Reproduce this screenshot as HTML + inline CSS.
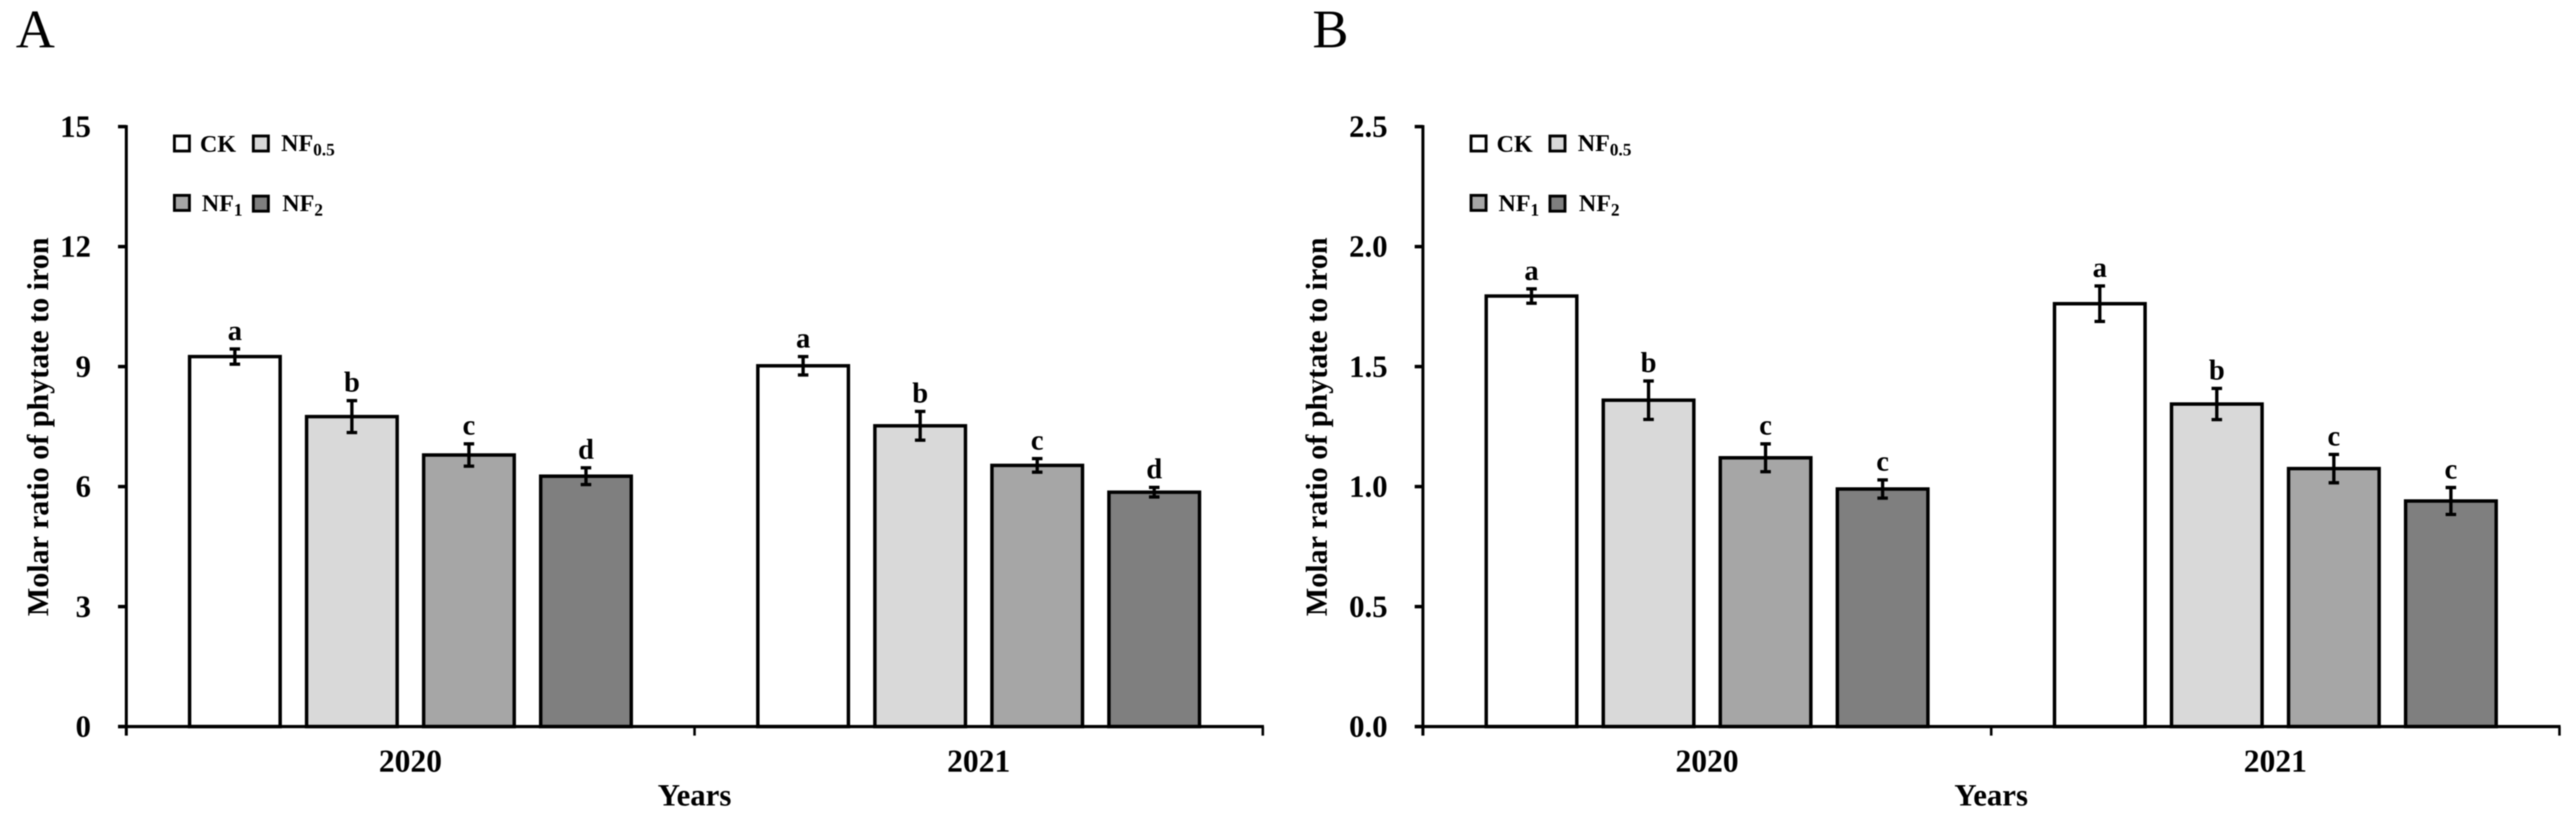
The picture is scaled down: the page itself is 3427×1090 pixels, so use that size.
<!DOCTYPE html>
<html lang="en">
<head>
<meta charset="utf-8">
<title>Molar ratio of phytate to iron</title>
<style>
html,body{margin:0;padding:0;background:#fff;}
body{width:3427px;height:1090px;overflow:hidden;}
svg{display:block;filter:blur(0.9px);}
text{font-family:"Liberation Serif","Times New Roman",serif;fill:#000;}
.bold{font-weight:bold;}
</style>
</head>
<body>
<svg id="fig" xmlns="http://www.w3.org/2000/svg" width="3427" height="1090" viewBox="0 0 3427 1090"></svg>
<script>
// ---- chart data ----
const years = ["2020", "2021"];
const treatments = ["CK", "NF0.5", "NF1", "NF2"];
const treatmentFills = ["#ffffff", "#d9d9d9", "#a6a6a6", "#7f7f7f"];

const ticksA = ["0", "3", "6", "9", "12", "15"];
const meansA2020 = [9.25, 7.75, 6.79, 6.26];
const meansA2021 = [9.02, 7.52, 6.53, 5.86];
const errorsA2020 = [0.19, 0.40, 0.28, 0.21];
const errorsA2021 = [0.23, 0.36, 0.17, 0.12];
const lettersA2020 = ["a", "b", "c", "d"];
const lettersA2021 = ["a", "b", "c", "d"];

const ticksB = ["0.0", "0.5", "1.0", "1.5", "2.0", "2.5"];
const meansB2020 = [1.794, 1.36, 1.12, 0.99];
const meansB2021 = [1.762, 1.344, 1.075, 0.94];
const errorsB2020 = [0.03, 0.08, 0.058, 0.038];
const errorsB2021 = [0.074, 0.065, 0.059, 0.056];
const lettersB2020 = ["a", "b", "c", "c"];
const lettersB2021 = ["a", "b", "c", "c"];

const yAxisTitle = "Molar ratio of phytate to iron";
const xAxisTitle = "Years";

// ---- layout ----
const SVG_NS = "http://www.w3.org/2000/svg";
const svg = document.getElementById("fig");
const Y_BOTTOM = 967;
const Y_TOP = 168.5;
const PLOT_W = 1512;
const BAR_W = 120.5;
const BAR_PITCH = 155.7;

function node(tag, parent, attrs, txt) {
  const el = document.createElementNS(SVG_NS, tag);
  for (const k in attrs) el.setAttribute(k, attrs[k]);
  if (txt !== undefined) el.textContent = txt;
  parent.appendChild(el);
  return el;
}

function drawLegendEntry(parent, panelKey, index, boxX, boxY, textX, textY) {
  const group = node("g", parent, {});
  
  
  const box = node("rect", group, {x: boxX, y: boxY, width: 20, height: 20, fill: treatmentFills[index], stroke: "#000", "stroke-width": 3.8});
  
  
  const label = treatments[index];
  const t = node("text", group, {x: textX, y: textY, "font-size": 32, "class": "bold"});
  
  
  if (label === "CK") {
    t.textContent = label;
  } else {
    const main = node("tspan", t, {}, "NF");
    
    
    const sub = node("tspan", t, {"font-size": 23, dy: 6}, label.slice(2));
    
    
  }
}

function drawPanel(cfg) {
  const x0 = cfg.axisX;
  const xEnd = x0 + PLOT_W;
  const bandW = PLOT_W / years.length;
  const maxTick = parseFloat(cfg.ticks[cfg.ticks.length - 1]);
  const yScale = v => Y_BOTTOM - (v / maxTick) * (Y_BOTTOM - Y_TOP);
  const bandCenter = i => x0 + bandW * (i + 0.5);
  const barCenter = (i, j) => bandCenter(i) + (j - (treatments.length - 1) / 2) * BAR_PITCH;

  const panel = node("g", svg, {});
  
  

  const panelLabel = node("text", panel, {x: cfg.labelX, y: 63, "font-size": 72}, cfg.key.toUpperCase());
  
  

  // bars
  years.forEach((yr, i) => {
    const group = node("g", panel, {});
    
    
    cfg.means[i].forEach((m, j) => {
      const cx = barCenter(i, j);
      const top = yScale(m);
      const bar = node("rect", group, {
        x: cx - BAR_W / 2, y: top, width: BAR_W, height: Y_BOTTOM - top,
        fill: treatmentFills[j], stroke: "#000", "stroke-width": 4.6
      });
      
      

      const hi = yScale(m + cfg.errors[i][j]);
      const lo = yScale(m - cfg.errors[i][j]);
      const errorBar = node("path", group, {
        d: "M" + (cx - 7) + " " + hi + "H" + (cx + 7) + "M" + cx + " " + hi + "V" + lo + "M" + (cx - 7) + " " + lo + "H" + (cx + 7),
        fill: "none", stroke: "#000", "stroke-width": 4.4
      });
      
      

      const letter = node("text", group, {
        x: cx, y: hi - 12, "font-size": 38, "class": "bold", "text-anchor": "middle"
      }, cfg.letters[i][j]);
      
      
    });
  });

  // y axis
  const yAxis = node("g", panel, {});
  
  
  const yLine = node("line", yAxis, {x1: x0, x2: x0, y1: Y_TOP - 2, y2: Y_BOTTOM + 12, stroke: "#000", "stroke-width": 4});
  
  
  cfg.ticks.forEach(label => {
    const y = yScale(parseFloat(label));
    const tick = node("line", yAxis, {x1: x0 - 11, x2: x0, y1: y, y2: y, stroke: "#000", "stroke-width": 4.6});
    
    
    const tickLabel = node("text", yAxis, {x: x0 - 47, y: y + 13.5, "font-size": 41, "class": "bold", "text-anchor": "end"}, label);
    
    
  });
  const yTitle = node("text", yAxis, {
    x: 0, y: 0, "font-size": 40, "class": "bold", "text-anchor": "middle",
    transform: "translate(" + cfg.titleX + " 568) rotate(-90)"
  }, yAxisTitle);
  
  

  // x axis
  const xAxis = node("g", panel, {});
  
  
  const xLine = node("line", xAxis, {x1: x0 - 11, x2: xEnd + 1.5, y1: Y_BOTTOM, y2: Y_BOTTOM, stroke: "#000", "stroke-width": 4.2});
  
  
  for (let i = 1; i <= years.length; i++) {
    const tx = x0 + bandW * i;
    const tick = node("line", xAxis, {x1: tx, x2: tx, y1: Y_BOTTOM, y2: Y_BOTTOM + 12, stroke: "#000", "stroke-width": 3.4});
    
    
  }
  years.forEach((yr, i) => {
    const lbl = node("text", xAxis, {x: bandCenter(i), y: 1027, "font-size": 42, "class": "bold", "text-anchor": "middle"}, yr);
    
    
  });
  const xTitle = node("text", xAxis, {x: x0 + PLOT_W / 2, y: 1072, "font-size": 41, "class": "bold", "text-anchor": "middle"}, xAxisTitle);
  
  

  // legend
  const legend = node("g", panel, {});
  
  
  drawLegendEntry(legend, cfg.key, 0, x0 + 64, 181, x0 + 98, 202);
  drawLegendEntry(legend, cfg.key, 1, x0 + 169, 181, x0 + 206, 201);
  drawLegendEntry(legend, cfg.key, 2, x0 + 64, 260, x0 + 100.5, 281);
  drawLegendEntry(legend, cfg.key, 3, x0 + 169, 261, x0 + 207.5, 281);
}

drawPanel({
  key: "a", axisX: 168, labelX: 21, titleX: 64, ticks: ticksA,
  means: [meansA2020, meansA2021], errors: [errorsA2020, errorsA2021], letters: [lettersA2020, lettersA2021]
});
drawPanel({
  key: "b", axisX: 1893, labelX: 1746, titleX: 1765, ticks: ticksB,
  means: [meansB2020, meansB2021], errors: [errorsB2020, errorsB2021], letters: [lettersB2020, lettersB2021]
});
</script>
</body>
</html>
